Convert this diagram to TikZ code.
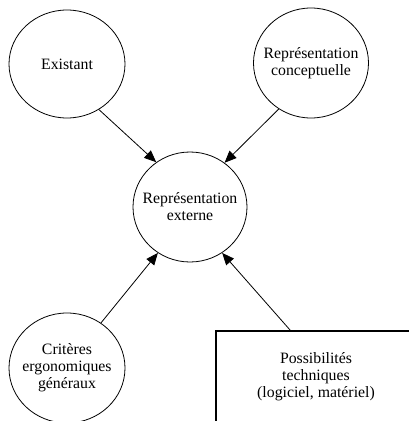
\documentclass[tikz,border=0pt]{standalone}
\usepackage{fontspec}
\setmainfont{Liberation Serif}
\usetikzlibrary{shapes.geometric,arrows.meta}
\tikzset{
  bubble/.style={ellipse,draw,line width=0.8pt,inner sep=0pt},
  btext/.style={label={[align=center,font=\fontsize{15.8}{17}\selectfont]center:#1}},
  techbox/.style={rectangle,draw,line width=1.5pt,inner sep=0pt,align=center,
    font=\fontsize{15.8}{17}\selectfont},
  link/.style={line width=0.8pt,-{Triangle[length=12pt,width=10pt]}}
}
\begin{document}
\begin{tikzpicture}[x=1pt,y=-1pt]
\useasboundingbox (0,0) rectangle (409,421);
\fill[white] (0,0) rectangle (409,421);
\clip (0,0) rectangle (409,421);
\node[bubble,minimum width=116pt,minimum height=108pt,btext={Existant}] (ex) at (67,64) {};
\node[bubble,minimum width=115pt,minimum height=110pt,btext={Représentation\\conceptuelle}] (cc) at (311,63) {};
\node[bubble,minimum width=114pt,minimum height=110pt,btext={Représentation\\externe}] (ctr) at (190,207) {};
\node[bubble,minimum width=116pt,minimum height=110pt,btext={Critères\\ergonomiques\\généraux}] (cg) at (67,368) {};
\node[techbox,minimum width=200pt,minimum height=92pt] (pt) at (316,377) {Possibilités\\techniques\\(logiciel, matériel)};
\coordinate (ptstart) at ([xshift=75pt]pt.north west);
\draw[link] (ex.-55) -- (ctr.127);
\draw[link] (cc.-125) -- (ctr.52);
\draw[link] (cg.53) -- (ctr.-125);
\draw[link] (ptstart) -- (ctr.-55);
\end{tikzpicture}
\end{document}
